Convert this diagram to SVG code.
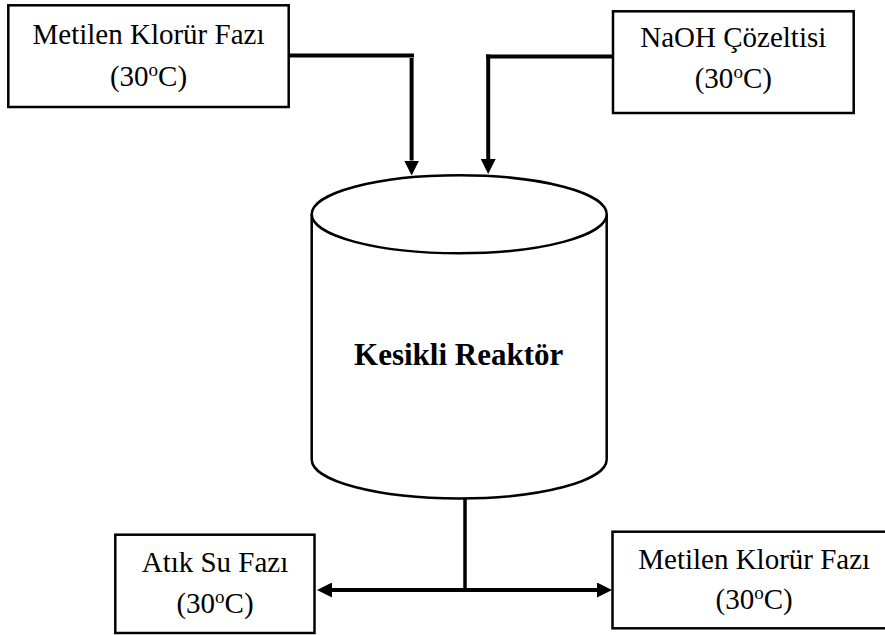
<svg xmlns="http://www.w3.org/2000/svg" width="885" height="635" viewBox="0 0 885 635">
  <style>
    .box { fill: #fff; stroke: #000; stroke-width: 2.5; }
    .vessel { fill: #fff; stroke: #000; stroke-width: 2.5; }
    .label { font-family: "Liberation Serif", "Times New Roman", serif; font-size: 29px; fill: #000; text-anchor: middle; }
    .title { font-family: "Liberation Serif", "Times New Roman", serif; font-size: 31px; font-weight: bold; fill: #000; text-anchor: middle; }
    .sup { font-size: 19px; }
    .flow { fill: none; stroke: #000; stroke-width: 4; }
    .stem { fill: none; stroke: #000; stroke-width: 3.5; }
  </style>
  <defs>
    <marker id="head" viewBox="0 0 15 15" refX="0" refY="7.5" markerWidth="15" markerHeight="15" markerUnits="userSpaceOnUse" orient="auto-start-reverse">
      <path d="M0,0 L15,7.5 L0,15 Z" fill="#000"/>
    </marker>
  </defs>

  <!-- feed: methylene chloride phase -->
  <g id="feed-mc">
    <rect class="box" x="8.3" y="5.3" width="280.4" height="101.7"/>
    <text class="label" x="148.5" y="43.5">Metilen Klorür Fazı</text>
    <text class="label" x="148.5" y="85.5">(30<tspan class="sup" dy="-10">o</tspan><tspan dy="10">C)</tspan></text>
  </g>

  <!-- feed: NaOH solution -->
  <g id="feed-naoh">
    <rect class="box" x="613" y="11.3" width="240.7" height="101.7"/>
    <text class="label" x="733.3" y="47">NaOH Çözeltisi</text>
    <text class="label" x="733.3" y="88">(30<tspan class="sup" dy="-10">o</tspan><tspan dy="10">C)</tspan></text>
  </g>

  <!-- batch reactor vessel -->
  <g id="reactor">
    <path class="vessel" d="M311.7,214.3 L311.7,459.5 A147.5,39 0 0 0 606.7,459.5 L606.7,214.3"/>
    <ellipse class="vessel" cx="459.2" cy="214.3" rx="147.5" ry="39"/>
    <text class="title" x="458.7" y="365">Kesikli Reaktör</text>
  </g>

  <!-- product: aqueous waste phase -->
  <g id="out-water">
    <rect class="box" x="115.3" y="534.7" width="199.2" height="98.3"/>
    <text class="label" x="215" y="572">Atık Su Fazı</text>
    <text class="label" x="215" y="613.3">(30<tspan class="sup" dy="-10">o</tspan><tspan dy="10">C)</tspan></text>
  </g>

  <!-- product: methylene chloride phase -->
  <g id="out-mc">
    <rect class="box" x="612.5" y="531.7" width="280" height="96.6"/>
    <text class="label" x="754.2" y="569">Metilen Klorür Fazı</text>
    <text class="label" x="754.2" y="609">(30<tspan class="sup" dy="-10">o</tspan><tspan dy="10">C)</tspan></text>
  </g>

  <!-- connectors -->
  <g id="connectors">
    <line class="flow" x1="288.5" y1="55.5" x2="414" y2="55.5"/>
    <line class="flow" x1="411.6" y1="58" x2="411.6" y2="160.5" marker-end="url(#head)"/>
    <line class="flow" x1="486" y1="56.5" x2="613" y2="56.5"/>
    <line class="flow" x1="488.2" y1="54.5" x2="488.2" y2="159" marker-end="url(#head)"/>
    <line class="stem" x1="465" y1="499" x2="465" y2="590"/>
    <line class="flow" x1="332" y1="590" x2="597" y2="590" marker-start="url(#head)" marker-end="url(#head)"/>
  </g>
</svg>
